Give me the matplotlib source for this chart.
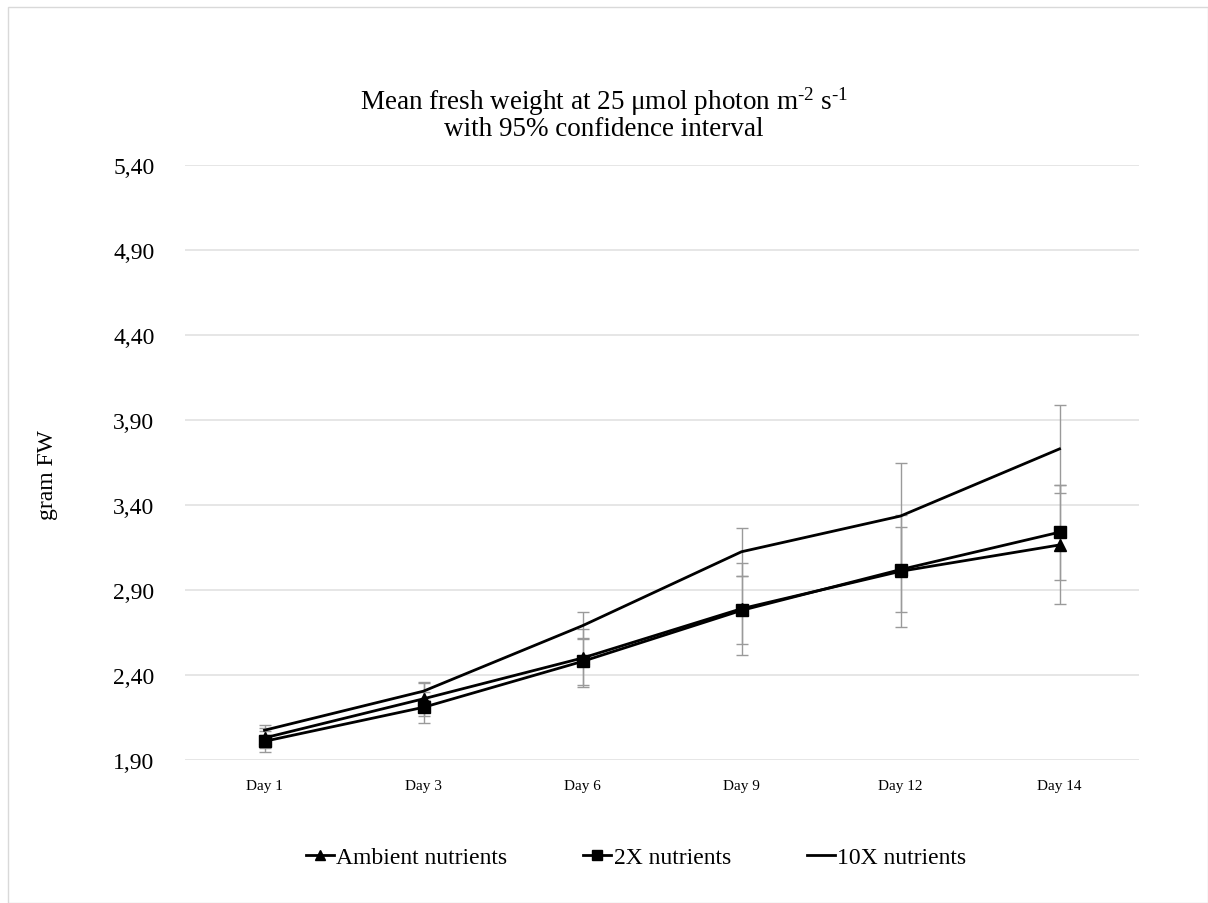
import matplotlib
matplotlib.use("Agg")
import matplotlib.pyplot as plt
from matplotlib.patches import Rectangle
from matplotlib.lines import Line2D

plt.rcParams['font.family'] = ['Liberation Serif', 'DejaVu Serif']
plt.rcParams['mathtext.fontset'] = 'custom'
plt.rcParams['mathtext.rm'] = 'Liberation Serif'
plt.rcParams['mathtext.it'] = 'Liberation Serif:italic'

days = ["Day 1", "Day 3", "Day 6", "Day 9", "Day 12", "Day 14"]
ambient = [2.03, 2.26, 2.50, 2.79, 3.01, 3.165]
ambient_ci = [0.06, 0.10, 0.17, 0.27, 0.33, 0.35]
x2 = [2.01, 2.21, 2.48, 2.78, 3.02, 3.24]
x2_ci = [0.06, 0.09, 0.14, 0.20, 0.25, 0.28]
x10 = [2.075, 2.305, 2.69, 3.125, 3.335, 3.73]
x10_ci = [0.03, 0.05, 0.08, 0.14, 0.31, 0.26]
yticks = [1.90, 2.40, 2.90, 3.40, 3.90, 4.40, 4.90, 5.40]

fig = plt.figure(figsize=(12.08, 9.04), dpi=100)
fig.patches.append(Rectangle((8/1208, 0), 1 - 8/1208, 1 - 8/904, transform=fig.transFigure,
                             fill=False, edgecolor='#d9d9d9', lw=1))
ax = fig.add_axes([185/1208, 1 - 761/904, (1139 - 185)/1208, (761 - 166)/904])

xs = list(range(len(days)))
ecol = '#9a9a9a'
for vals, ci in [(ambient, ambient_ci), (x2, x2_ci), (x10, x10_ci)]:
    ax.errorbar(xs, vals, yerr=ci, fmt='none', ecolor=ecol, elinewidth=1.0,
                capsize=4, capthick=1.0, zorder=2)

ax.plot(xs, ambient, color='black', lw=2, marker='^', ms=9, zorder=3, label='Ambient nutrients')
ax.plot(xs, x2, color='black', lw=2, marker='s', ms=9, zorder=3, label='2X nutrients')
ax.plot(xs, x10, color='black', lw=2, zorder=3, label='10X nutrients')

ax.set_xlim(-0.5, len(days) - 0.5)
ax.set_ylim(yticks[0], yticks[-1])
ax.set_yticks(yticks)
ax.set_yticklabels([f"{v:.2f}".replace('.', ',') for v in yticks], fontsize=17)
ax.set_xticks(xs)
ax.set_xticklabels(days, fontsize=11)
ax.tick_params(axis='x', length=0, pad=14)
ax.tick_params(axis='y', length=0, pad=22)
ax.grid(axis='y', color='#e2e2e2', lw=1.2)
ax.set_axisbelow(True)
for s in ax.spines.values():
    s.set_visible(False)

fig.text(47/1208, 1 - 475/904, 'gram FW', rotation=90, ha='center', va='center', fontsize=17)
fig.text(604/1208, 1 - 102/904, r'Mean fresh weight at 25 μmol photon m$^{\text{-2}}$ s$^{\text{-1}}$',
         ha='center', va='center', fontsize=19.5)
fig.text(604/1208, 1 - 130/904, 'with 95% confidence interval',
         ha='center', va='center', fontsize=19.5)

handles = [Line2D([], [], color='black', lw=2, marker='^', ms=7),
           Line2D([], [], color='black', lw=2, marker='s', ms=7),
           Line2D([], [], color='black', lw=2)]
fig.legend(handles, ['Ambient nutrients', '2X nutrients', '10X nutrients'],
           loc='center', bbox_to_anchor=(636/1208, 1 - 858/904), ncol=3, frameon=False,
           fontsize=17, handlelength=1.2, handletextpad=0.1, columnspacing=3.2)

fig.savefig('out.png', dpi=100)
